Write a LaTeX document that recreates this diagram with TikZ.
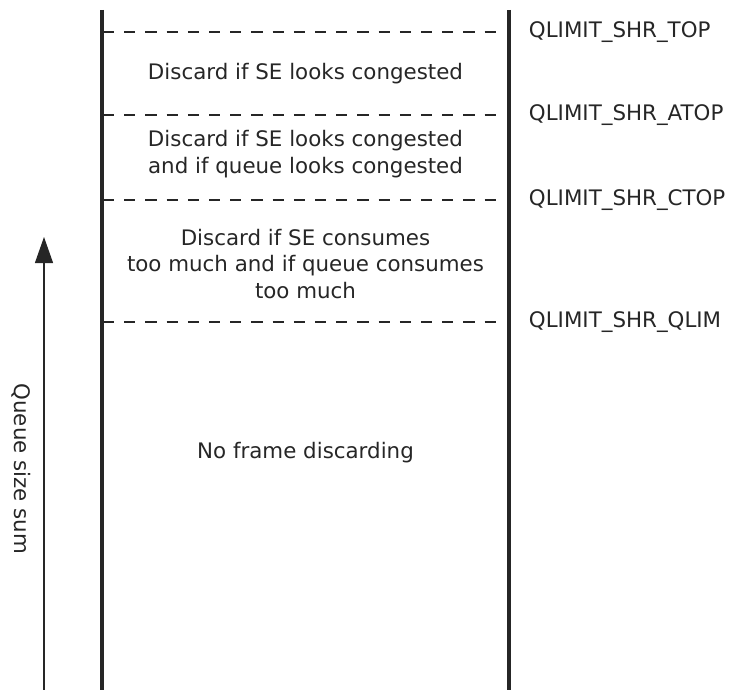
\documentclass[tikz,border=0pt]{standalone}
\usepackage{fontspec}
\setmainfont{DejaVu Sans}
\usetikzlibrary{arrows.meta,positioning}

\begin{document}
\begin{tikzpicture}[
    x=0.025cm, y=-0.025cm,
    font=\fontsize{15.2}{19}\selectfont,
    wall/.style={line width=2.2pt, black!85},
    limit/.style={line width=2pt, black!85, dash pattern=on 0.28cm off 0.25cm},
    zone/.style={align=center, text=black!85},
    limitlabel/.style={anchor=west, text=black!85},
    arrow/.style={-{Triangle[width=0.45cm,length=0.65cm]}, line width=0.8pt, black!85}
]
\useasboundingbox (0,0) rectangle (738,690);

% walls
\coordinate (lefttop) at (102,10);
\coordinate (leftbot) at (102,690);
\coordinate (righttop) at (509,10);
\coordinate (rightbot) at (509,690);
\draw[wall] (lefttop) -- (leftbot);
\draw[wall] (righttop) -- (rightbot);

% thresholds
\coordinate (topL) at (103,32);   \coordinate (topR) at (500,32);
\coordinate (atopL) at (103,115); \coordinate (atopR) at (500,115);
\coordinate (ctopL) at (103,200); \coordinate (ctopR) at (500,200);
\coordinate (qlimL) at (103,322); \coordinate (qlimR) at (500,322);
\draw[limit] (topL) -- (topR);
\draw[limit] (atopL) -- (atopR);
\draw[limit] (ctopL) -- (ctopR);
\draw[limit] (qlimL) -- (qlimR);

\node[limitlabel] (toplabel) at (524,32) {QLIMIT\_SHR\_TOP};
\node[limitlabel] (atoplabel) at (524,115) {QLIMIT\_SHR\_ATOP};
\node[limitlabel] (ctoplabel) at (524,200) {QLIMIT\_SHR\_CTOP};
\node[limitlabel] (qlimlabel) at (524,322) {QLIMIT\_SHR\_QLIM};

% zones
\node[zone] (zonetop) at (305.5,74) {Discard if SE looks congested};
\node[zone] (zoneatop) at (305.5,154) {Discard if SE looks congested\\and if queue looks congested};
\node[zone] (zonectop) at (305.5,264) {Discard if SE consumes\\too much and if queue consumes\\too much};
\node[zone] (zonefree) at (305.5,453) {No frame discarding};

% axis
\coordinate (axisbot) at (44,690);
\coordinate (axistip) at (44,237);
\draw[arrow] (axisbot) -- (axistip);
\node[rotate=-90, text=black!85] (axislabel) at (21,469) {Queue size sum};
\end{tikzpicture}
\end{document}
